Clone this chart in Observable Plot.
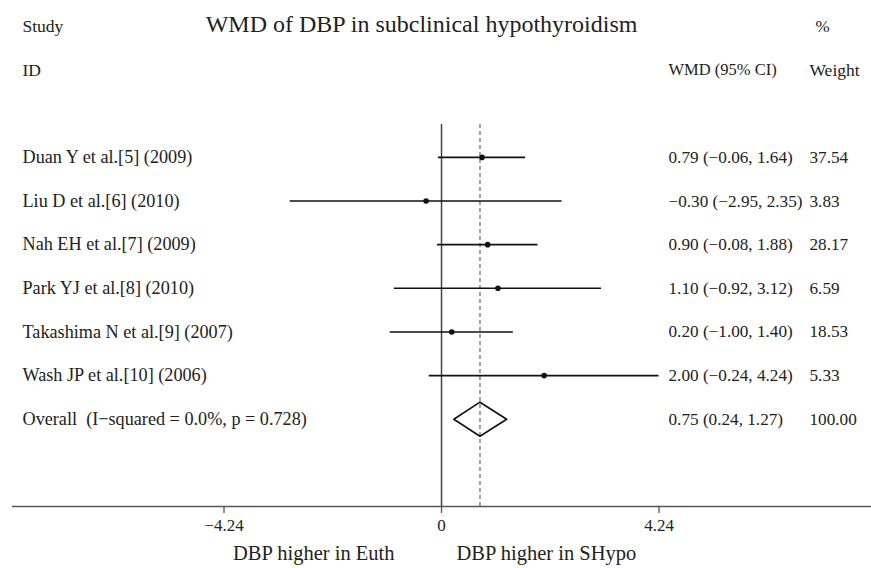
<!DOCTYPE html>
<html>
<head>
<meta charset="utf-8">
<script src="https://cdn.jsdelivr.net/npm/d3@7"></script>
<script src="https://cdn.jsdelivr.net/npm/@observablehq/plot@0.6"></script>
<style>
  html, body { margin: 0; padding: 0; background: #fff; }
  svg text { white-space: pre; }
</style>
</head>
<body>
<div id="chart"></div>
<script>
// ---- data ----
const studies = [
  "Duan Y et al.[5] (2009)",
  "Liu D et al.[6] (2010)",
  "Nah EH et al.[7] (2009)",
  "Park YJ et al.[8] (2010)",
  "Takashima N et al.[9] (2007)",
  "Wash JP et al.[10] (2006)"
];
const wmd = [0.79, -0.30, 0.90, 1.10, 0.20, 2.00];
const lower = [-0.06, -2.95, -0.08, -0.92, -1.00, -0.24];
const upper = [1.64, 2.35, 1.88, 3.12, 1.40, 4.24];
const weights = ["37.54", "3.83", "28.17", "6.59", "18.53", "5.33"];

const overallLabel = "Overall  (I\u2212squared = 0.0%, p = 0.728)";
const overallWmd = 0.75;
const overallLower = 0.24;
const overallUpper = 1.27;
const overallWeight = "100.00";

const xTicks = [-4.24, 0, 4.24];
const titleText = "WMD of DBP in subclinical hypothyroidism";
const leftLabel = "DBP higher in Euth";
const rightLabel = "DBP higher in SHypo";

// ---- build tables ----
const fmt = v => (v < 0 ? "\u2212" : "") + Math.abs(v).toFixed(2);
const tickFmt = v => v === 0 ? "0" : fmt(v);
const rows = studies.map((s, i) => ({
  row: i + 1, label: s, est: wmd[i], lo: lower[i], hi: upper[i],
  ci: `${fmt(wmd[i])} (${fmt(lower[i])}, ${fmt(upper[i])})`, w: weights[i]
}));
const overallRow = studies.length + 1;
const overall = {
  row: overallRow, label: overallLabel.replace(/  /g, "\u00a0 "),
  est: overallWmd, lo: overallLower, hi: overallUpper,
  ci: `${fmt(overallWmd)} (${fmt(overallLower)}, ${fmt(overallUpper)})`, w: overallWeight
};
const allRows = [...rows, overall];
const diamond = [
  {x: overall.lo, y: overallRow},
  {x: overall.est, y: overallRow - 0.39},
  {x: overall.hi, y: overallRow},
  {x: overall.est, y: overallRow + 0.39},
  {x: overall.lo, y: overallRow}
];
const axisRow = overallRow + 2;
const topRow = 0.244;

const font = "'Liberation Serif', 'Times New Roman', serif";
const ink = "#222";

const chart = Plot.plot({
  width: 871,
  height: 568,
  marginTop: 0,
  marginBottom: 62,
  marginLeft: 12,
  marginRight: 0,
  style: {fontFamily: font, color: ink, background: "#fff"},
  x: {domain: [-8.363, 8.382], axis: null},
  y: {domain: [-2.595, axisRow], reverse: true, axis: null},
  marks: [
    // axis line and ticks
    Plot.ruleY([axisRow], {stroke: "#555", strokeWidth: 1.5}),
    Plot.axisX({
      ticks: xTicks, tickFormat: tickFmt, tickSize: 7, tickPadding: 5,
      fontSize: 17, label: null, stroke: "#555", strokeWidth: 1.3
    }),
    // null line and overall dashed line
    Plot.ruleX([0], {y1: topRow, y2: axisRow, stroke: "#444", strokeWidth: 1.5}),
    Plot.ruleX([overallWmd], {y1: topRow, y2: axisRow, stroke: "#666", strokeWidth: 1.2, strokeDasharray: "4,3"}),
    // CIs and points
    Plot.ruleY(rows, {y: "row", x1: "lo", x2: "hi", stroke: "#111", strokeWidth: 1.6}),
    Plot.dot(rows, {x: "est", y: "row", r: 2.8, fill: "#111", stroke: null}),
    Plot.line(diamond, {x: "x", y: "y", stroke: "#111", strokeWidth: 1.6, fill: "none"}),
    // text columns
    Plot.text(allRows, {y: "row", text: "label", frameAnchor: "left", dx: 10, textAnchor: "start", fontSize: 18.2, fill: ink}),
    Plot.text(allRows, {y: "row", text: "ci", frameAnchor: "right", dx: -203, textAnchor: "start", fontSize: 17.2, fill: ink}),
    Plot.text(allRows, {y: "row", text: "w", frameAnchor: "right", dx: -62, textAnchor: "start", fontSize: 17.2, fill: ink}),
    // headers
    Plot.text(["Study"], {y: -2, frameAnchor: "left", dx: 10, textAnchor: "start", fontSize: 17.5, fill: ink}),
    Plot.text(["ID"], {y: -1, frameAnchor: "left", dx: 10, textAnchor: "start", fontSize: 17.5, fill: ink}),
    Plot.text(["%"], {y: -2, frameAnchor: "right", dx: -56, textAnchor: "start", fontSize: 17, fill: ink}),
    Plot.text(["WMD (95% CI)"], {y: -1, frameAnchor: "right", dx: -203, textAnchor: "start", fontSize: 16.5, fill: ink}),
    Plot.text(["Weight"], {y: -1, frameAnchor: "right", dx: -62, textAnchor: "start", fontSize: 17.5, fill: ink}),
    Plot.text([titleText], {x: 0, y: -2.05, dx: -20, textAnchor: "middle", fontSize: 24, fill: ink}),
    // bottom direction labels
    Plot.text([leftLabel], {x: 0, y: axisRow + 1.07, dx: -47, textAnchor: "end", fontSize: 20.5, fill: ink}),
    Plot.text([rightLabel], {x: 0, y: axisRow + 1.07, dx: 15, textAnchor: "start", fontSize: 20.5, fill: ink})
  ]
});
document.getElementById("chart").appendChild(chart);
</script>
</body>
</html>
